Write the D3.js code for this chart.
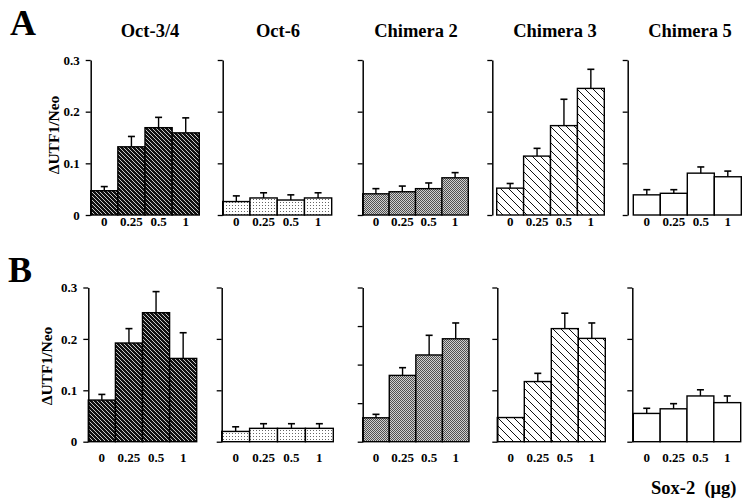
<!DOCTYPE html>
<html><head><meta charset="utf-8">
<script src="https://cdn.jsdelivr.net/npm/d3@7"></script>
<style>body{margin:0;background:#fff}svg{display:block}</style>
</head><body><svg id="c" width="751" height="504"></svg>
<script>
// ---------- data ----------
const doses = ["0", "0.25", "0.5", "1"];
const panelNames = ["Oct-3/4", "Oct-6", "Chimera 2", "Chimera 3", "Chimera 5"];
const rowLabels = ["A", "B"];
const yTickLabels = ["0", "0.1", "0.2", "0.3"];
const yLabel = "\u0394UTF1/Neo";
const xTitle = "Sox-2\u00a0\u00a0(\u03bcg)";

const valuesA = [
  [0.047, 0.132, 0.169, 0.159],
  [0.026, 0.033, 0.029, 0.033],
  [0.041, 0.045, 0.051, 0.072],
  [0.052, 0.114, 0.173, 0.245],
  [0.039, 0.042, 0.081, 0.074]
];
const errorsA = [
  [0.008, 0.020, 0.020, 0.029],
  [0.011, 0.010, 0.010, 0.010],
  [0.010, 0.011, 0.011, 0.010],
  [0.009, 0.015, 0.051, 0.037],
  [0.010, 0.007, 0.012, 0.011]
];
const valuesB = [
  [0.081, 0.192, 0.251, 0.162],
  [0.020, 0.026, 0.026, 0.026],
  [0.062, 0.172, 0.225, 0.267],
  [0.047, 0.117, 0.220, 0.201],
  [0.055, 0.064, 0.089, 0.076]
];
const errorsB = [
  [0.011, 0.028, 0.041, 0.050],
  [0.009, 0.009, 0.009, 0.009],
  [0.009, 0.020, 0.051, 0.041],
  [0.000, 0.016, 0.030, 0.030],
  [0.010, 0.010, 0.012, 0.013]
];
const yMaxA = [0.3, 0.3, 0.3, 0.3, 0.3];
const yMaxB = [0.3, 0.3, 0.4, 0.3, 0.3];

// ---------- layout ----------
const rows = [
  { values: valuesA, errors: errorsA, yMax: yMaxA, top: 60, bottom: 215,
    axisX: [90.7, 222.7, 362.7, 492.3, 627.7],
    barL:  [90.7, 222.7, 362.7, 496.7, 633.3],
    barR:  [199.3, 331.7, 468.3, 604.3, 741.3],
    labelY: 226, letterY: 35, ylabY: 135 },
  { values: valuesB, errors: errorsB, yMax: yMaxB, top: 287.5, bottom: 441.7,
    axisX: [88.3, 221.7, 362.7, 497.3, 632.3],
    barL:  [88.3, 221.7, 362.7, 497.3, 633.3],
    barR:  [196.7, 333.3, 469, 605.3, 740.7],
    labelY: 462, letterY: 282, ylabY: 366 }
];
const titleX = [150, 278, 416, 555, 690];
const serif = "'Liberation Serif','Times New Roman',serif";

const svg = d3.select("#c");
const defs = svg.append("defs");

// patterns
const p0 = defs.append("pattern").attr("id", "pat0").attr("patternUnits", "userSpaceOnUse").attr("width", 4).attr("height", 4);
p0.append("rect").attr("width", 4).attr("height", 4).attr("fill", "#111");
p0.append("path").attr("d", "M0,0L4,4M-1,3L1,5M3,-1L5,1").attr("stroke", "#c8c8c8").attr("stroke-width", 1);

const p1 = defs.append("pattern").attr("id", "pat1").attr("patternUnits", "userSpaceOnUse").attr("width", 3).attr("height", 3);
p1.append("rect").attr("width", 3).attr("height", 3).attr("fill", "#fff");
p1.append("rect").attr("x", 1).attr("y", 1).attr("width", 1).attr("height", 1).attr("fill", "#666");

const p2 = defs.append("pattern").attr("id", "pat2").attr("patternUnits", "userSpaceOnUse").attr("width", 2).attr("height", 2);
p2.append("rect").attr("width", 2).attr("height", 2).attr("fill", "#d0d0d0");
p2.append("rect").attr("width", 1).attr("height", 1).attr("fill", "#505050");
p2.append("rect").attr("x", 1).attr("y", 1).attr("width", 1).attr("height", 1).attr("fill", "#505050");

const p3 = defs.append("pattern").attr("id", "pat3").attr("patternUnits", "userSpaceOnUse").attr("width", 8).attr("height", 8);
p3.append("rect").attr("width", 8).attr("height", 8).attr("fill", "#fff");
p3.append("path").attr("d", "M0,0L8,8M-4,4L4,12M4,-4L12,4").attr("stroke", "#111").attr("stroke-width", 1);

const fills = ["url(#pat0)", "url(#pat1)", "url(#pat2)", "url(#pat3)", "#fff"];

rows.forEach((row, r) => {
  // row letter
  svg.append("text").attr("x", r === 0 ? 10 : 8).attr("y", row.letterY)
    .attr("font-family", serif).attr("font-weight", "bold").attr("font-size", 36)
    .text(rowLabels[r]);
  // y label
  svg.append("text")
    .attr("transform", `translate(${r === 0 ? 59 : 52},${row.ylabY}) rotate(-90)`)
    .attr("text-anchor", "middle").attr("font-family", serif).attr("font-weight", "bold")
    .attr("font-size", 15.5).text(yLabel);

  panelNames.forEach((name, i) => {
    const y = d3.scaleLinear().domain([0, row.yMax[i]]).range([row.bottom, row.top]);
    const x = d3.scaleBand().domain(doses).range([row.barL[i], row.barR[i]]).padding(0);
    const vals = row.values[i], errs = row.errors[i];

    const g = svg.append("g");
    // bars
    g.selectAll("rect.bar").data(doses).join("rect").attr("class", "bar")
      .attr("x", d => x(d)).attr("width", x.bandwidth())
      .attr("y", (d, k) => y(vals[k])).attr("height", (d, k) => y(0) - y(vals[k]))
      .attr("fill", fills[i]).attr("stroke", "#000").attr("stroke-width", 1.4);
    // error bars
    doses.forEach((d, k) => {
      if (errs[k] <= 0) return;
      const cx = x(d) + x.bandwidth() / 2;
      g.append("line").attr("x1", cx).attr("x2", cx)
        .attr("y1", y(vals[k])).attr("y2", y(vals[k] + errs[k]))
        .attr("stroke", "#000").attr("stroke-width", 1.4);
      g.append("line").attr("x1", cx - 3.5).attr("x2", cx + 3.5)
        .attr("y1", y(vals[k] + errs[k])).attr("y2", y(vals[k] + errs[k]))
        .attr("stroke", "#000").attr("stroke-width", 1.6);
    });
    // y axis
    const nT = Math.round(row.yMax[i] * 10);
    const axis = d3.axisLeft(y).ticks(nT).tickSize(5).tickSizeOuter(0)
      .tickFormat((v, j) => i === 0 ? yTickLabels[j] : "");
    const ag = svg.append("g").attr("transform", `translate(${row.axisX[i]},0)`).call(axis);
    ag.select(".domain").attr("stroke-width", 1.5);
    ag.selectAll(".tick line").attr("stroke-width", 1.3);
    ag.selectAll(".tick text").attr("font-family", serif).attr("font-weight", "bold")
      .attr("font-size", 13).attr("x", -11).attr("fill", "#000");
    // x labels
    svg.append("g").selectAll("text").data(doses).join("text")
      .attr("x", d => x(d) + x.bandwidth() / 2).attr("y", row.labelY)
      .attr("text-anchor", "middle").attr("font-family", serif).attr("font-weight", "bold")
      .attr("font-size", 13).text(d => d);
    // titles (row A only)
    if (r === 0) {
      svg.append("text").attr("x", titleX[i]).attr("y", 37).attr("text-anchor", "middle")
        .attr("font-family", serif).attr("font-weight", "bold").attr("font-size", 18.5).text(name);
    }
  });
});

svg.append("text").attr("x", 651).attr("y", 494)
  .attr("font-family", serif).attr("font-weight", "bold").attr("font-size", 18.5).text(xTitle);
</script></body></html>
